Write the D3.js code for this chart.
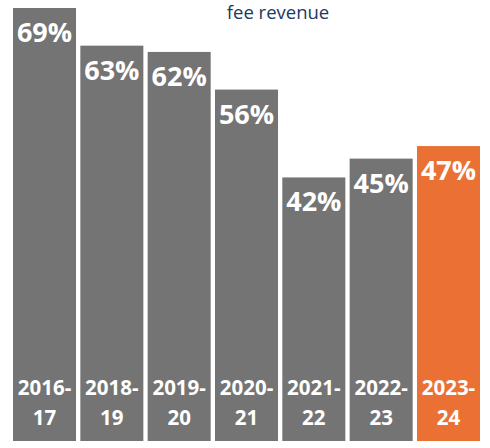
<!DOCTYPE html>
<meta charset="utf-8">
<style>
body { margin: 0; background: #fff; }
text { font-family: "Open Sans", sans-serif; }
</style>
<body>
<script src="https://d3js.org/d3.v7.min.js"></script>
<script>
// data
var years = ["2016-|17", "2018-|19", "2019-|20", "2020-|21", "2021-|22", "2022-|23", "2023-|24"];
var shares = [69, 63, 62, 56, 42, 45, 47];
var highlight = "2023-|24";

var width = 490, height = 448;

var svg = d3.select("body").append("svg")
  .attr("width", width)
  .attr("height", height);

var x = d3.scaleBand().domain(years).range([13, 480]).paddingInner(0.064).paddingOuter(0);
var y = d3.scaleLinear().domain([0, 69]).range([441, 8]);

// title (partly cut off in the source)
svg.append("text")
  .attr("x", 278)
  .attr("y", 19)
  .attr("text-anchor", "middle")
  .attr("fill", "#203864")
  .attr("font-size", "18.5px")
  .text("fee revenue");

var data = years.map(function(d, i) { return {year: d, v: shares[i]}; });

// bars
svg.selectAll(".bar").data(data).enter().append("rect")
  .attr("class", "bar")
  .attr("x", function(d) { return x(d.year); })
  .attr("y", function(d) { return y(d.v); })
  .attr("width", x.bandwidth())
  .attr("height", function(d) { return y(0) - y(d.v); })
  .attr("fill", function(d) { return d.year === highlight ? "#EA7133" : "#747474"; });

// value labels
svg.selectAll(".val").data(data).enter().append("text")
  .attr("class", "val")
  .attr("x", function(d) { return x(d.year) + x.bandwidth() / 2; })
  .attr("y", function(d) { return y(d.v) + 34; })
  .attr("text-anchor", "middle")
  .attr("fill", "#fff")
  .attr("font-weight", "bold")
  .attr("font-size", "27px")
  .text(function(d) { return d.v + "%"; });

// category labels inside the bottom of each bar
var cat = svg.selectAll(".cat").data(data).enter().append("text")
  .attr("class", "cat")
  .attr("text-anchor", "middle")
  .attr("fill", "#fff")
  .attr("font-weight", "bold")
  .attr("font-size", "20.5px");

cat.each(function(d) {
  var parts = d.year.split("|");
  var t = d3.select(this);
  var cx = x(d.year) + x.bandwidth() / 2;
  t.append("tspan").attr("x", cx).attr("y", 395).text(parts[0]);
  t.append("tspan").attr("x", cx).attr("y", 425).text(parts[1]);
});
</script>
</body>
